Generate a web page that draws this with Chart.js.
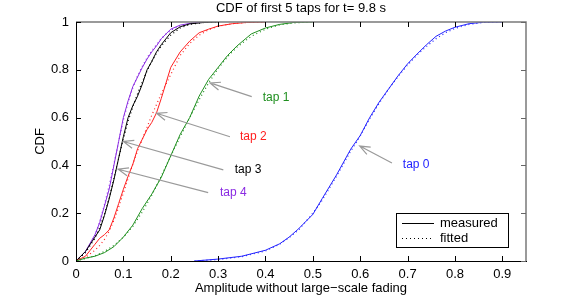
<!DOCTYPE html>
<html>
<head>
<meta charset="utf-8">
<style>
    html, body { margin: 0; padding: 0; background: #fff; }
    #wrap { width: 581px; height: 296px; }
</style>
<script src="https://cdn.jsdelivr.net/npm/chart.js@4.4.0/dist/chart.umd.min.js"></script>
</head>
<body>
<div id="wrap"><canvas id="cdfChart" width="581" height="296"></canvas></div>
<script>
// 坐标轴刻度
const xTicks = [0, 0.1, 0.2, 0.3, 0.4, 0.5, 0.6, 0.7, 0.8, 0.9];
const yTicks = [0, 0.2, 0.4, 0.6, 0.8, 1];

// tap 0
const tap0Amp = [0.25, 0.3, 0.35, 0.4, 0.43, 0.45, 0.47, 0.5, 0.52, 0.55, 0.58, 0.6, 0.62, 0.64, 0.66, 0.68, 0.7, 0.72, 0.74, 0.76, 0.78, 0.8, 0.83, 0.86, 0.9];
const tap0Measured = [0, 0.008, 0.02, 0.045, 0.072, 0.1, 0.135, 0.195, 0.262, 0.36, 0.468, 0.525, 0.6, 0.665, 0.72, 0.775, 0.825, 0.866, 0.905, 0.94, 0.962, 0.978, 0.993, 0.999, 1];
const tap0Fitted = [0, 0.006, 0.018, 0.042, 0.07, 0.098, 0.13, 0.2, 0.255, 0.355, 0.46, 0.522, 0.595, 0.66, 0.72, 0.772, 0.82, 0.862, 0.898, 0.93, 0.955, 0.973, 0.99, 0.998, 1];

// tap 1
const tap1Amp = [0, 0.02, 0.04, 0.06, 0.08, 0.1, 0.12, 0.14, 0.16, 0.18, 0.2, 0.22, 0.24, 0.26, 0.28, 0.3, 0.32, 0.34, 0.37, 0.4, 0.43, 0.46, 0.5];
const tap1Measured = [0, 0.012, 0.02, 0.035, 0.06, 0.1, 0.15, 0.22, 0.28, 0.35, 0.44, 0.53, 0.6, 0.69, 0.76, 0.81, 0.86, 0.9, 0.95, 0.975, 0.99, 0.998, 1];
const tap1Fitted = [0, 0.01, 0.022, 0.04, 0.065, 0.1, 0.145, 0.205, 0.275, 0.355, 0.44, 0.52, 0.6, 0.675, 0.745, 0.805, 0.855, 0.895, 0.94, 0.97, 0.988, 0.996, 1];

// tap 2
const tap2Amp = [0, 0.02, 0.03, 0.04, 0.05, 0.06, 0.07, 0.08, 0.09, 0.1, 0.11, 0.12, 0.13, 0.14, 0.15, 0.16, 0.17, 0.18, 0.2, 0.22, 0.24, 0.26, 0.28, 0.3, 0.33, 0.36, 0.4];
const tap2Measured = [0, 0.02, 0.045, 0.07, 0.095, 0.11, 0.13, 0.18, 0.24, 0.3, 0.355, 0.405, 0.47, 0.51, 0.55, 0.58, 0.62, 0.68, 0.81, 0.875, 0.92, 0.955, 0.97, 0.983, 0.993, 0.998, 1];
const tap2Fitted = [0, 0.015, 0.03, 0.045, 0.065, 0.09, 0.125, 0.17, 0.225, 0.285, 0.345, 0.405, 0.46, 0.51, 0.56, 0.61, 0.655, 0.7, 0.78, 0.86, 0.91, 0.945, 0.968, 0.982, 0.993, 0.998, 1];

// tap 3
const tap3Amp = [0, 0.02, 0.04, 0.05, 0.06, 0.07, 0.08, 0.09, 0.1, 0.11, 0.12, 0.13, 0.14, 0.15, 0.16, 0.17, 0.18, 0.2, 0.22, 0.24, 0.27, 0.3];
const tap3Measured = [0, 0.04, 0.1, 0.13, 0.19, 0.26, 0.34, 0.43, 0.52, 0.6, 0.65, 0.69, 0.74, 0.8, 0.835, 0.875, 0.905, 0.955, 0.98, 0.992, 0.998, 1];
const tap3Fitted = [0, 0.035, 0.095, 0.14, 0.195, 0.265, 0.345, 0.43, 0.51, 0.585, 0.645, 0.7, 0.75, 0.795, 0.835, 0.87, 0.9, 0.945, 0.975, 0.99, 0.998, 1];

// tap 4
const tap4Amp = [0, 0.02, 0.04, 0.05, 0.06, 0.07, 0.08, 0.09, 0.1, 0.11, 0.12, 0.13, 0.14, 0.15, 0.16, 0.17, 0.18, 0.19, 0.2, 0.22, 0.25, 0.28];
const tap4Measured = [0, 0.04, 0.11, 0.16, 0.23, 0.3, 0.4, 0.5, 0.6, 0.67, 0.73, 0.77, 0.81, 0.845, 0.875, 0.9, 0.93, 0.95, 0.97, 0.987, 0.997, 1];
const tap4Fitted = [0, 0.035, 0.105, 0.165, 0.235, 0.315, 0.405, 0.5, 0.59, 0.665, 0.725, 0.775, 0.815, 0.85, 0.88, 0.905, 0.93, 0.95, 0.965, 0.985, 0.996, 1];

const FONT = "'Liberation Sans', Arial, Helvetica, sans-serif";
const ARROW_COLOR = '#9a9a9a';

/**
 * 各 tap 的颜色
 */
const tapColors = ['#2323ff', '#1f8f1f', '#ff1f1f', '#000000', '#8a2be2'];

/**
 * 箭头标注（数据坐标）
 */
const tapNotes = [
    { text: 'tap 0', color: tapColors[0], head: [0.599, 0.481], tail: [0.667, 0.41], label: [0.69, 0.405] },
    { text: 'tap 1', color: tapColors[1], head: [0.283, 0.745], tail: [0.371, 0.688], label: [0.394, 0.682] },
    { text: 'tap 2', color: tapColors[2], head: [0.17, 0.618], tail: [0.325, 0.52], label: [0.346, 0.52] },
    { text: 'tap 3', color: tapColors[3], head: [0.1, 0.5], tail: [0.311, 0.381], label: [0.335, 0.381] },
    { text: 'tap 4', color: tapColors[4], head: [0.089, 0.384], tail: [0.279, 0.286], label: [0.304, 0.285] }
];

/**
 * 组装 {x, y} 点
 */
function toPoints(amp, cdf) {
    return amp.map((a, i) => ({ x: a, y: cdf[i] }));
}

/**
 * 生成一个曲线数据集
 */
function makeDataset(label, amp, cdf, color, dotted) {
    return {
        label: label,
        data: toPoints(amp, cdf),
        borderColor: color,
        backgroundColor: color,
        borderWidth: dotted ? 1.2 : 1,
        borderDash: dotted ? [1, 3] : [],
        pointRadius: 0,
        tension: 0,
        fill: false
    };
}

/**
 * 画箭头（空心 V 形头）
 */
function drawArrow(ctx, x1, y1, x2, y2) {
    const angle = Math.atan2(y2 - y1, x2 - x1);
    const len = 11;
    const spread = 0.38;
    ctx.beginPath();
    ctx.moveTo(x1, y1);
    ctx.lineTo(x2, y2);
    ctx.moveTo(x2 - len * Math.cos(angle - spread), y2 - len * Math.sin(angle - spread));
    ctx.lineTo(x2, y2);
    ctx.lineTo(x2 - len * Math.cos(angle + spread), y2 - len * Math.sin(angle + spread));
    ctx.stroke();
}

// 边框、内向刻度、标题、标注与图例
const figureDecor = {
    id: 'figureDecor',
    afterDraw(chart) {
        const ctx = chart.ctx;
        const area = chart.chartArea;
        const xs = chart.scales.x;
        const ys = chart.scales.y;
        ctx.save();

        // 上边和右边框
        ctx.strokeStyle = '#7a7a7a';
        ctx.lineWidth = 1.5;
        ctx.beginPath();
        ctx.moveTo(area.left, area.top);
        ctx.lineTo(area.right, area.top);
        ctx.lineTo(area.right, area.bottom);
        ctx.stroke();

        // 刻度线
        ctx.lineWidth = 1;
        xTicks.forEach(v => {
            const px = Math.round(xs.getPixelForValue(v)) + 0.5;
            ctx.strokeStyle = '#000';
            ctx.beginPath();
            ctx.moveTo(px, area.bottom);
            ctx.lineTo(px, area.bottom - 5);
            ctx.moveTo(px, area.top);
            ctx.lineTo(px, area.top + 5);
            ctx.stroke();
        });
        yTicks.forEach(v => {
            const py = Math.round(ys.getPixelForValue(v)) + 0.5;
            ctx.strokeStyle = '#000';
            ctx.beginPath();
            ctx.moveTo(area.left, py);
            ctx.lineTo(area.left + 5, py);
            ctx.stroke();
            ctx.strokeStyle = '#666';
            ctx.beginPath();
            ctx.moveTo(area.right, py);
            ctx.lineTo(area.right - 5, py);
            ctx.stroke();
        });

        // 标题和轴标题
        ctx.fillStyle = '#000';
        ctx.font = '13px ' + FONT;
        ctx.textAlign = 'center';
        ctx.textBaseline = 'middle';
        const midX = (area.left + area.right) / 2;
        ctx.fillText('CDF of first 5 taps for t= 9.8 s', midX, 8);
        ctx.fillText('Amplitude without large\u2212scale fading', midX, 288);
        ctx.save();
        ctx.translate(40, (area.top + area.bottom) / 2);
        ctx.rotate(-Math.PI / 2);
        ctx.fillText('CDF', 0, 0);
        ctx.restore();

        // 箭头标注
        ctx.lineWidth = 1.2;
        ctx.strokeStyle = ARROW_COLOR;
        ctx.font = '12px ' + FONT;
        ctx.textAlign = 'left';
        tapNotes.forEach(note => {
            drawArrow(ctx,
                xs.getPixelForValue(note.tail[0]), ys.getPixelForValue(note.tail[1]),
                xs.getPixelForValue(note.head[0]), ys.getPixelForValue(note.head[1]));
            ctx.fillStyle = note.color;
            ctx.fillText(note.text, xs.getPixelForValue(note.label[0]), ys.getPixelForValue(note.label[1]));
        });

        // 图例
        const boxR = area.right - 18;
        const boxB = area.bottom - 14;
        const boxL = boxR - 112;
        const boxT = boxB - 34;
        ctx.fillStyle = '#fff';
        ctx.fillRect(boxL, boxT, boxR - boxL, boxB - boxT);
        ctx.strokeStyle = '#000';
        ctx.lineWidth = 1;
        ctx.strokeRect(boxL + 0.5, boxT + 0.5, boxR - boxL, boxB - boxT);
        ctx.beginPath();
        ctx.moveTo(boxL + 6, boxT + 10.5);
        ctx.lineTo(boxL + 38, boxT + 10.5);
        ctx.stroke();
        ctx.setLineDash([1, 3]);
        ctx.beginPath();
        ctx.moveTo(boxL + 6, boxT + 25.5);
        ctx.lineTo(boxL + 38, boxT + 25.5);
        ctx.stroke();
        ctx.setLineDash([]);
        ctx.fillStyle = '#000';
        ctx.font = '13px ' + FONT;
        ctx.fillText('measured', boxL + 44, boxT + 10.5);
        ctx.fillText('fitted', boxL + 44, boxT + 25);

        ctx.restore();
    }
};

const datasets = [
    makeDataset('tap 0 measured', tap0Amp, tap0Measured, tapColors[0], false),
    makeDataset('tap 0 fitted', tap0Amp, tap0Fitted, tapColors[0], true),
    makeDataset('tap 1 measured', tap1Amp, tap1Measured, tapColors[1], false),
    makeDataset('tap 1 fitted', tap1Amp, tap1Fitted, tapColors[1], true),
    makeDataset('tap 2 measured', tap2Amp, tap2Measured, tapColors[2], false),
    makeDataset('tap 2 fitted', tap2Amp, tap2Fitted, tapColors[2], true),
    makeDataset('tap 3 measured', tap3Amp, tap3Measured, tapColors[3], false),
    makeDataset('tap 3 fitted', tap3Amp, tap3Fitted, tapColors[3], true),
    makeDataset('tap 4 measured', tap4Amp, tap4Measured, tapColors[4], false),
    makeDataset('tap 4 fitted', tap4Amp, tap4Fitted, tapColors[4], true)
];

new Chart(document.getElementById('cdfChart'), {
    type: 'line',
    data: { datasets: datasets },
    options: {
        responsive: false,
        animation: false,
        layout: { padding: { top: 22, right: 55, left: 0, bottom: 0 } },
        plugins: {
            legend: { display: false },
            tooltip: { enabled: false }
        },
        scales: {
            x: {
                type: 'linear',
                min: 0,
                max: 0.95,
                grid: { display: false, drawTicks: false },
                border: { display: true, color: '#000', width: 1 },
                ticks: {
                    color: '#000',
                    padding: 6,
                    maxRotation: 0,
                    font: { family: FONT, size: 13 },
                    callback: v => String(v)
                },
                afterBuildTicks: scale => { scale.ticks = xTicks.map(v => ({ value: v })); },
                afterFit: scale => { scale.height = 35; }
            },
            y: {
                min: 0,
                max: 1,
                grid: { display: false, drawTicks: false },
                border: { display: true, color: '#000', width: 1 },
                ticks: {
                    color: '#000',
                    padding: 7,
                    font: { family: FONT, size: 13 },
                    callback: v => String(v)
                },
                afterBuildTicks: scale => { scale.ticks = yTicks.map(v => ({ value: v })); },
                afterFit: scale => { scale.width = 76; }
            }
        }
    },
    plugins: [figureDecor]
});
</script>
</body>
</html>
